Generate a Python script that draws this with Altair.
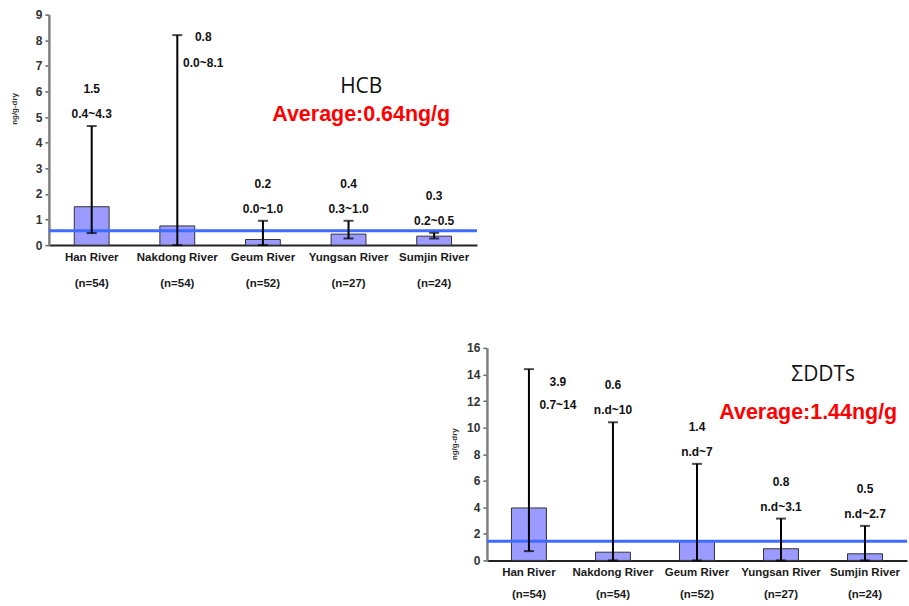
import altair as alt
import pandas as pd

# ---------------- data ----------------
rivers = ["Han River", "Nakdong River", "Geum River", "Yungsan River", "Sumjin River"]
n_samples = ["(n=54)", "(n=54)", "(n=52)", "(n=27)", "(n=24)"]

hcb_mean = [1.5, 0.75, 0.22, 0.43, 0.35]
hcb_low = [0.47, 0.0, 0.0, 0.26, 0.26]
hcb_high = [4.65, 8.2, 0.95, 0.95, 0.48]
hcb_mean_text = ["1.5", "0.8", "0.2", "0.4", "0.3"]
hcb_range_text = ["0.4~4.3", "0.0~8.1", "0.0~1.0", "0.3~1.0", "0.2~0.5"]
hcb_line = 0.56
hcb_title = "HCB"
hcb_avg_text = "Average:0.64ng/g"

ddt_mean = [3.95, 0.62, 1.45, 0.88, 0.5]
ddt_low = [0.7, 0.0, 0.0, 0.0, 0.0]
ddt_high = [14.4, 10.4, 7.27, 3.15, 2.6]
ddt_mean_text = ["3.9", "0.6", "1.4", "0.8", "0.5"]
ddt_range_text = ["0.7~14", "n.d~10", "n.d~7", "n.d~3.1", "n.d~2.7"]
ddt_line = 1.45
ddt_title = "ΣDDTs"
ddt_avg_text = "Average:1.44ng/g"

y_title = "ng/g-dry"

BOLD = "'Liberation Sans', Arial, sans-serif"
REG = "'Open Sans', 'Liberation Sans', sans-serif"


def panel(means, lows, highs, mtxt, rtxt, line_val, title, avg_txt,
          ymax, ystep, w, h, pad_inner, line_h, ytitle_x, ytitle_y,
          right_dx, right_dy1, right_dy2, t_pos, a_pos):
    cats = [f"{r}|{n}" for r, n in zip(rivers, n_samples)]
    df = pd.DataFrame({"cat": cats, "mean": means, "low": lows, "high": highs,
                       "mt": mtxt, "rt": rtxt})
    base = alt.Chart(df).transform_calculate(
        side=f"datum.high / {ymax} > 0.8 ? 'right' : 'above'"
    )
    xscale = alt.Scale(paddingInner=pad_inner, paddingOuter=pad_inner / 2)
    xaxis = alt.Axis(labelExpr="split(datum.value, '|')", labelAngle=0,
                     labelFont=BOLD, labelFontSize=11.5, labelFontWeight="bold",
                     labelColor="#1a1a1a", labelLineHeight=line_h,
                     labelPadding=6, labelBaseline="top",
                     domainColor="#222222", domainWidth=2, ticks=False)
    x = alt.X("cat:N", sort=cats, title=None, scale=xscale, axis=xaxis)
    yscale = alt.Scale(domain=[0, ymax], nice=False)
    yaxis = alt.Axis(values=list(range(0, ymax + 1, ystep)), grid=False,
                     labelFont=BOLD, labelFontSize=12,
                     labelFontWeight="bold", labelColor="#333333",
                     labelOverlap=False,
                     labelPadding=3, tickSize=4, tickColor="#666666",
                     tickWidth=1.5, domainColor="#808080", domainWidth=2.5,
                     titleFont=BOLD, titleFontSize=8, titleFontWeight="bold",
                     titleColor="#333333", titleX=ytitle_x, titleY=ytitle_y,
                     titleBaseline="middle", titleAngle=270)

    def yq(f):
        return alt.Y(f, scale=yscale, axis=yaxis, title=y_title)

    bars = base.mark_bar(color="#9a9aff", stroke="#333333", strokeWidth=1).encode(
        x=x, y=yq("mean:Q"))
    avg_line = alt.Chart(pd.DataFrame({"v": [line_val]})).mark_rule(
        color="#3f6cff", strokeWidth=3).encode(y=yq("v:Q"))
    whisk = base.mark_rule(color="black", strokeWidth=2).encode(
        x=x, y=yq("low:Q"), y2="high:Q")
    cap_hi = base.mark_tick(color="black", thickness=2, size=10, orient="horizontal").encode(
        x=x, y=yq("high:Q"))
    cap_lo = base.mark_tick(color="black", thickness=2, size=10, orient="horizontal").encode(
        x=x, y=yq("low:Q"))

    tstyle = dict(font=BOLD, fontSize=12, fontWeight="bold", color="#111111")
    above = base.transform_filter("datum.side == 'above'")
    right = base.transform_filter("datum.side == 'right'")
    t1 = above.mark_text(dy=-37, **tstyle).encode(x=x, y=yq("high:Q"), text="mt:N")
    t2 = above.mark_text(dy=-12, **tstyle).encode(x=x, y=yq("high:Q"), text="rt:N")
    t3 = right.mark_text(dx=right_dx, dy=right_dy1, **tstyle).encode(
        x=x, y=yq("high:Q"), text="mt:N")
    t4 = right.mark_text(dx=right_dx, dy=right_dy2, **tstyle).encode(
        x=x, y=yq("high:Q"), text="rt:N")

    ttl = alt.Chart(pd.DataFrame({"t": [title]})).mark_text(
        font=REG, fontSize=21, color="#111111").encode(
        text="t:N", x=alt.value(t_pos[0]), y=alt.value(t_pos[1]))
    avg = alt.Chart(pd.DataFrame({"t": [avg_txt]})).mark_text(
        font=BOLD, fontSize=21.5, fontWeight="bold", color="#ff0000").encode(
        text="t:N", x=alt.value(a_pos[0]), y=alt.value(a_pos[1]))

    return alt.layer(bars, avg_line, whisk, cap_hi, cap_lo, t1, t2, t3, t4, ttl, avg).properties(
        width=w, height=h)


hcb = panel(hcb_mean, hcb_low, hcb_high, hcb_mean_text, hcb_range_text, hcb_line,
            hcb_title, hcb_avg_text, 9, 1, 429, 231, 0.593, 26, -34, 94,
            26, 2, 28, (313, 73), (313, 101))
ddt = panel(ddt_mean, ddt_low, ddt_high, ddt_mean_text, ddt_range_text, ddt_line,
            ddt_title, ddt_avg_text, 16, 2, 421, 213, 0.584, 22, -32, 96,
            29, 13, 36, (337, 27), (322, 65))

spacer = alt.Chart(pd.DataFrame({"a": [0]})).mark_point(opacity=0).encode(
    x=alt.value(0), y=alt.value(0)).properties(width=403, height=10)

chart = alt.vconcat(
    hcb,
    alt.hconcat(spacer, ddt, spacing=0),
    spacing=53,
).properties(
    padding={"left": 11, "top": 8, "right": 0, "bottom": 0},
    background="white",
).configure_view(stroke=None)

chart.save("out.html", embed_options={"renderer": "svg", "actions": False})
